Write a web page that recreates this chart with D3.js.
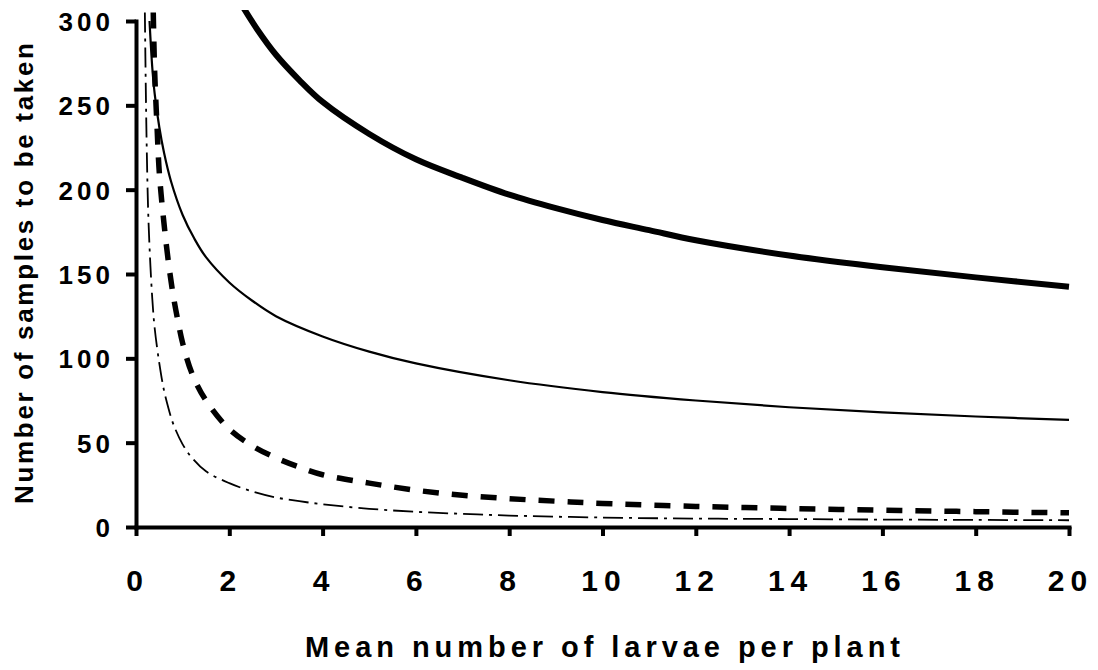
<!DOCTYPE html>
<html><head><meta charset="utf-8">
<script src="https://cdn.jsdelivr.net/npm/d3@7"></script>
<style>
body{margin:0;background:#fff}
svg{display:block}
text{font-family:"Liberation Sans",Arial,Helvetica,sans-serif;font-weight:bold;fill:#000}
</style>
</head><body>
<svg id="chart" width="1098" height="670"></svg>
<script>
// ---- data ----
const xTicks = [0, 2, 4, 6, 8, 10, 12, 14, 16, 18, 20];
const yTicks = [0, 50, 100, 150, 200, 250, 300];
const xTitle = "Mean number of larvae per plant";
const yTitle = "Number of samples to be taken";

// thick solid curve
const heavyX = [2.3, 2.6, 3, 3.5, 4, 5, 6, 7, 8, 9, 10, 11, 12, 14, 16, 18, 20];
const heavyN = [308, 295, 280, 265, 252, 233, 218, 207, 197, 189, 182, 176, 170, 161, 154, 148, 142.5];

// thin solid curve
const thinX = [0.29, 0.35, 0.4, 0.5, 0.6, 0.75, 1.0, 1.25, 1.5, 2, 2.5, 3, 4, 5, 6, 8, 10, 12, 14, 16, 18, 20];
const thinN = [300, 272, 257, 237, 222, 205, 185, 171, 160, 145, 134, 125, 113, 104, 97, 87, 80, 75, 71, 68, 65.5, 63.5];

// thick dashed curve
const dashX = [0.37, 0.4, 0.45, 0.5, 0.6, 0.7, 0.8, 0.9, 1.0, 1.2, 1.5, 2, 2.5, 3, 3.5, 4, 5, 6, 7, 8, 9, 10, 12, 14, 16, 18, 20];
const dashN = [305, 270, 238, 210, 180, 156, 137, 122, 109, 91, 75, 58, 48, 41, 35.5, 31, 26, 21.8, 18.8, 16.8, 15.3, 14, 12.2, 11, 10, 9.1, 8.4];

// thin dash-dot curve
const dotX = [0.19, 0.21, 0.23, 0.26, 0.3, 0.35, 0.4, 0.5, 0.6, 0.7, 0.8, 1.0, 1.2, 1.5, 2, 2.5, 3, 3.5, 4, 5, 6, 7, 8, 10, 12, 14, 16, 18, 20];
const dotN = [305, 260, 225, 188, 160, 135, 118, 97, 81, 70, 61, 49, 41, 33, 26, 21, 17.5, 15.3, 13.5, 10.8, 9, 7.8, 6.8, 5.6, 5.0, 4.7, 4.4, 4.2, 4.0];

// ---- chart ----
const svg = d3.select("#chart");
const x = d3.scaleLinear().domain([0, 20]).range([136, 1069]);
const y = d3.scaleLinear().domain([0, 300]).range([527, 21]);

svg.append("defs").append("clipPath").attr("id", "clip")
  .append("rect").attr("x", 136).attr("y", 10).attr("width", 934).attr("height", 517);

const plot = svg.append("g").attr("clip-path", "url(#clip)");
const line = d3.line().x(d => x(d[0])).y(d => y(d[1])).curve(d3.curveCatmullRom.alpha(0.5));

const series = [
  {xs: heavyX, ys: heavyN, w: 6, dash: null},
  {xs: thinX, ys: thinN, w: 2.2, dash: null},
  {xs: dashX, ys: dashN, w: 5.5, dash: "16,13"},
  {xs: dotX, ys: dotN, w: 1.8, dash: "20,6,3,6"}
];
series.forEach(s => {
  plot.append("path")
    .datum(s.xs.map((v, i) => [v, s.ys[i]]))
    .attr("fill", "none").attr("stroke", "#000")
    .attr("stroke-width", s.w)
    .attr("stroke-dasharray", s.dash)
    .attr("d", line);
});

// axes
const xAxis = d3.axisBottom(x).tickValues(xTicks).tickSize(9).tickSizeOuter(0).tickFormat(d3.format("d"));
const yAxis = d3.axisLeft(y).tickValues(yTicks).tickSize(10).tickSizeOuter(0).tickFormat(d3.format("d"));

const gx = svg.append("g").attr("transform", "translate(0,527)").call(xAxis);
const gy = svg.append("g").attr("transform", "translate(136,0)").call(yAxis);

[gx, gy].forEach(g => {
  g.select(".domain").attr("stroke", "#000").attr("stroke-width", 4).attr("stroke-linecap", "square");
  g.selectAll(".tick line").attr("stroke", "#000").attr("stroke-width", 4);
  g.selectAll("text").attr("font-family", null).attr("fill", "#000");
});
gx.selectAll(".tick text")
  .attr("font-size", 30).attr("letter-spacing", 6)
  .attr("y", 64).attr("dy", 0).attr("dx", 1);
gy.selectAll(".tick text")
  .attr("font-size", 26).attr("letter-spacing", 4)
  .attr("x", -22).attr("dy", "0.36em");

// titles
svg.append("text")
  .attr("x", 305).attr("y", 657)
  .attr("font-size", 29)
  .attr("textLength", 595).attr("lengthAdjust", "spacing")
  .text(xTitle);

svg.append("text")
  .attr("transform", "translate(33,504) rotate(-90)")
  .attr("font-size", 26)
  .attr("textLength", 461).attr("lengthAdjust", "spacing")
  .text(yTitle);
</script>
</body></html>
